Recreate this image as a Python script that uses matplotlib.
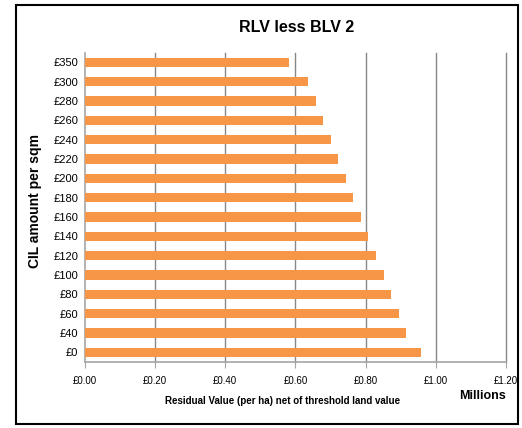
import matplotlib
matplotlib.use("Agg")
import matplotlib.pyplot as plt
from matplotlib.patches import Rectangle
from matplotlib.ticker import FuncFormatter

plt.rcParams['font.family'] = ['Liberation Sans', 'DejaVu Sans']

# 데이터
cil_labels = ['£0', '£40', '£60', '£80', '£100', '£120', '£140', '£160',
              '£180', '£200', '£220', '£240', '£260', '£280', '£300', '£350']
residual_values = [0.957, 0.915, 0.895, 0.872, 0.852, 0.829, 0.806, 0.786,
                   0.764, 0.744, 0.721, 0.701, 0.678, 0.658, 0.635, 0.581]
x_ticks = [0.0, 0.2, 0.4, 0.6, 0.8, 1.0, 1.2]

bar_color = '#F79646'
grid_color = '#888888'

fig = plt.figure(figsize=(5.22, 4.28), dpi=100)
ax = fig.add_axes([0.1628, 0.1542, 0.9693 - 0.1628, 0.8769 - 0.1542])

ypos = list(range(len(cil_labels)))
ax.barh(ypos, residual_values, height=0.47, color=bar_color, zorder=3)

ax.set_xlim(0, 1.2)
ax.set_ylim(-0.5, len(cil_labels) - 0.5)
ax.set_xticks(x_ticks)
ax.xaxis.set_major_formatter(FuncFormatter(lambda v, p: f'£{v:.2f}'))
ax.set_yticks(ypos)
ax.set_yticklabels(cil_labels)

ax.tick_params(axis='x', labelsize=7, length=4, color='#A6A6A6', pad=6)
ax.tick_params(axis='y', labelsize=8, length=0, pad=5)

# 세로 격자선 (오른쪽 끝 선도 잘리지 않게)
for xv in x_ticks[1:]:
    ax.axvline(xv, color=grid_color, linewidth=1.0, zorder=0, clip_on=False)

for s in ['top', 'right']:
    ax.spines[s].set_visible(False)
for s in ['left', 'bottom']:
    ax.spines[s].set_color('#A6A6A6')
    ax.spines[s].set_linewidth(1.2)

# 제목 및 축 레이블
fig.text(297 / 522, 1 - 28 / 428, 'RLV less BLV 2', ha='center', va='center',
         fontsize=11.5, fontweight='bold')
fig.text(35 / 522, 1 - 201 / 428, 'CIL amount per sqm', ha='center', va='center',
         rotation=90, fontsize=10, fontweight='bold')
fig.text(283 / 522, 1 - 401 / 428, 'Residual Value (per ha) net of threshold land value',
         ha='center', va='center', fontsize=7, fontweight='bold')
fig.text(483 / 522, 1 - 396 / 428, 'Millions', ha='center', va='center',
         fontsize=9, fontweight='bold')

# 바깥 테두리
fig.patches.append(Rectangle((16 / 522, 1 - 424 / 428), (518 - 16) / 522, (424 - 5) / 428,
                             transform=fig.transFigure, fill=False,
                             edgecolor='black', linewidth=1.5))

fig.savefig('out.png', dpi=100)
